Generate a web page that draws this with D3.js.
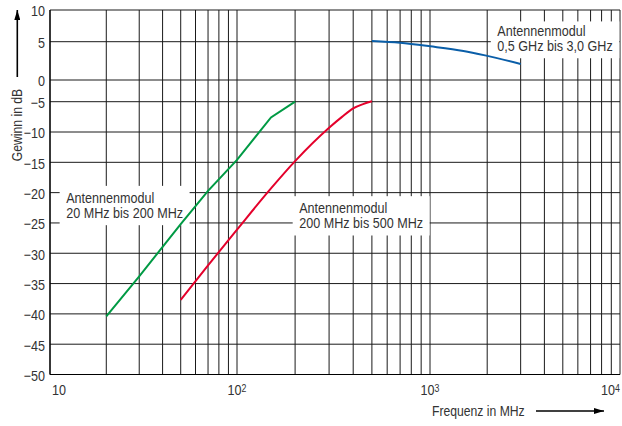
<!DOCTYPE html>
<html><head><meta charset="utf-8">
<script src="https://cdn.jsdelivr.net/npm/d3@7"></script>
<style>
html,body{margin:0;padding:0;background:#fff;}
svg{display:block;font-family:'Liberation Sans',Arial,sans-serif;}
</style></head><body>
<svg id="c" width="622" height="426"></svg>
<script>
// ---- data ----
const yTickValues = [10, 5, 0, -5, -10, -15, -20, -25, -30, -35, -40, -45, -50];
const xTickValues = [10, 100, 1000, 10000];
const xTickExponents = ["", "2", "3", "4"];

const greenFreq = [20, 30, 50, 70, 100, 150, 200];
const greenGain = [-40.4, -33.8, -25.2, -19.7, -14.6, -7.6, -5.0];

const redFreq = [50, 70, 100, 150, 200, 300, 350, 400, 450, 500];
const redGain = [-37.7, -32.0, -26.1, -19.3, -14.8, -9.3, -7.5, -6.1, -5.4, -4.9];

const blueFreq = [500, 700, 1000, 1500, 2000, 3000];
const blueGain = [5.1, 4.85, 4.4, 3.8, 3.15, 2.1];

const labelGreen = ["Antennenmodul", "20 MHz bis 200 MHz"];
const labelRed = ["Antennenmodul", "200 MHz bis 500 MHz"];
const labelBlue = ["Antennenmodul", "0,5 GHz bis 3,0 GHz"];
const labelAnchorFreq = [12.2, 210, 2260];
const labelAnchorGain = [-21.7, -23.4, 5.9];

const xTitle = "Frequenz in MHz";
const yTitle = "Gewinn in dB";

// ---- scales ----
const pL = 50, pR = 620, pT = 10, pB = 374.5;
const x = d3.scaleLog().domain([10, 100, 1000, 10000]).range([pL, 237, 430, pR]);
const y = d3.scaleLinear().domain([-50, -5, 0, 5, 10]).range([pB, 101.7, 80, 41.7, pT]);

const svg = d3.select("#c");
const fs = 15;
const SX = 0.84;          // horizontal condensing of the text
const textCol = "#333";

// condensed text helper
function ctext(parent, px, py, anchor, size, rot) {
  const g = parent.append("g")
    .attr("transform", `translate(${px},${py})` + (rot ? ` rotate(${rot})` : "") + ` scale(${SX},1)`);
  return g.append("text").attr("text-anchor", anchor).attr("font-size", size).attr("fill", textCol);
}

// vertical gridlines
const xGrid = d3.scaleLog().domain([10, 10000]).ticks();
svg.append("g").selectAll("line").data(xGrid).join("line")
  .attr("x1", d => x(d)).attr("x2", d => x(d))
  .attr("y1", pT).attr("y2", pB)
  .attr("stroke", "#1a1a1a").attr("stroke-width", 1);

// horizontal gridlines
svg.append("g").selectAll("line").data(yTickValues).join("line")
  .attr("x1", pL).attr("x2", pR)
  .attr("y1", d => y(d)).attr("y2", d => y(d))
  .attr("stroke", "#1a1a1a").attr("stroke-width", 1);

// axis lines
svg.append("line").attr("x1", pL).attr("x2", pL).attr("y1", pT).attr("y2", pB)
  .attr("stroke", "#000").attr("stroke-width", 1.2);
svg.append("line").attr("x1", pL).attr("x2", pR).attr("y1", pB).attr("y2", pB)
  .attr("stroke", "#000").attr("stroke-width", 1.2);

// y tick labels
const fmt = d => (d < 0 ? "\u2212" + Math.abs(d) : String(d));
const yAx = svg.append("g");
yTickValues.forEach(v => {
  ctext(yAx, pL - 5, y(v), "end", fs).attr("dy", "0.42em").text(fmt(v));
});

// x tick labels
const xAx = svg.append("g");
xTickValues.forEach((v, i) => {
  const last = i === xTickValues.length - 1;
  const t = ctext(xAx, x(v) + (i === 0 ? 2 : 0), 395, i === 0 ? "start" : (last ? "end" : "middle"), fs);
  t.append("tspan").text("10");
  t.append("tspan").attr("font-size", 10.5).attr("dy", -3).text(xTickExponents[i]);
});

// annotation boxes
const labels = [labelGreen, labelRed, labelBlue];
labels.forEach((lines, i) => {
  const g = svg.append("g");
  const rect = g.append("rect").attr("fill", "#fff");
  const ax = x(labelAnchorFreq[i]), ay = y(labelAnchorGain[i]);
  const t = ctext(g, ax, ay, "start", fs);
  lines.forEach((ln, j) => {
    t.append("tspan").attr("x", 0).attr("y", j * 15).text(ln);
  });
  const bb = t.node().getBBox();
  const padTop = i === 2 ? 0.5 : 3;
  rect.attr("x", ax + bb.x * SX - 6.5).attr("y", ay + bb.y - padTop)
      .attr("width", bb.width * SX + 13).attr("height", bb.height + padTop + 4);
});

// curves
const series = [
  {f: greenFreq, g: greenGain, c: "#009a44", curve: d3.curveLinear},
  {f: redFreq, g: redGain, c: "#e4002b", curve: d3.curveMonotoneX},
  {f: blueFreq, g: blueGain, c: "#0a5ea8", curve: d3.curveMonotoneX}
];
series.forEach(s => {
  const pts = s.f.map((f, i) => [f, s.g[i]]);
  svg.append("path").datum(pts)
    .attr("d", d3.line().x(d => x(d[0])).y(d => y(d[1])).curve(s.curve))
    .attr("fill", "none").attr("stroke", s.c).attr("stroke-width", 2);
});

// axis titles
ctext(svg, 21.5, 125, "middle", 14.5, -90).text(yTitle);
ctext(svg, 432, 416, "start", 14.5).text(xTitle);

// arrows
svg.append("defs").append("marker").attr("id", "ah")
  .attr("viewBox", "0 0 10 6").attr("refX", 10).attr("refY", 3)
  .attr("markerWidth", 10).attr("markerHeight", 6).attr("markerUnits", "userSpaceOnUse")
  .attr("orient", "auto")
  .append("path").attr("d", "M0,0L10,3L0,6Z").attr("fill", "#000");
svg.append("line").attr("x1", 17.3).attr("x2", 17.3).attr("y1", 77).attr("y2", 10)
  .attr("stroke", "#000").attr("stroke-width", 1.6).attr("marker-end", "url(#ah)");
svg.append("line").attr("x1", 536).attr("x2", 604).attr("y1", 411).attr("y2", 411)
  .attr("stroke", "#000").attr("stroke-width", 1.6).attr("marker-end", "url(#ah)");
</script>
</body></html>
